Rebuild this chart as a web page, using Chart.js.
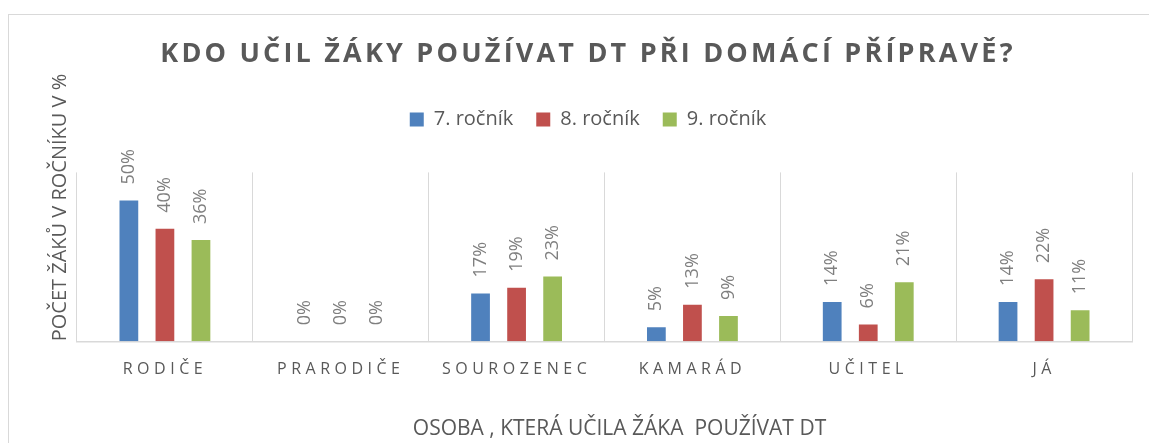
<!DOCTYPE html>
<html>
<head>
<meta charset="utf-8">
<script src="https://cdn.jsdelivr.net/npm/chart.js@4/dist/chart.umd.min.js"></script>
<style>
  body { margin: 0; background: #fff; }
  #wrap { position: relative; width: 1149px; height: 443px; }
  #frame { position: absolute; left: 8px; top: 14px; right: 0; bottom: 0;
           border-left: 1px solid #d9d9d9; border-top: 1px solid #d9d9d9; }
  canvas { position: absolute; left: 0; top: 0; }
</style>
</head>
<body>
<div id="wrap">
  <div id="frame"></div>
  <canvas id="chart" width="1149" height="443"></canvas>
</div>
<script>
var categories = ['RODIČE', 'PRARODIČE', 'SOUROZENEC', 'KAMARÁD', 'UČITEL', 'JÁ'];
var grade7 = [50, 0, 17, 5, 14, 14];
var grade8 = [40, 0, 19, 13, 6, 22];
var grade9 = [36, 0, 23, 9, 21, 11];
var seriesNames = ['7. ročník', '8. ročník', '9. ročník'];
var colors = ['#4F81BD', '#C0504D', '#9BBB59'];

Chart.defaults.font.family = '"Open Sans", sans-serif';
Chart.defaults.color = '#595959';

// canvas letter spacing for the title and the category labels
function spaced(fn, px) {
  return function () {
    var ctx = this.ctx;
    var prev = ctx.letterSpacing;
    ctx.letterSpacing = px;
    fn.apply(this, arguments);
    ctx.letterSpacing = prev;
  };
}
// the x axis title sits a little right of centre in the original
function shifted(fn, dx) {
  return function () {
    this.ctx.save();
    this.ctx.translate(dx, 0);
    fn.apply(this, arguments);
    this.ctx.restore();
  };
}
var textTweaks = {
  id: 'textTweaks',
  beforeDraw: function (chart) {
    if (chart._tweaked) return;
    chart._tweaked = true;
    chart.titleBlock.draw = spaced(chart.titleBlock.draw, '3.2px');
    chart.scales.x.drawLabels = spaced(chart.scales.x.drawLabels, '4.5px');
    chart.scales.x.drawTitle = shifted(chart.scales.x.drawTitle, 15);
  }
};

// extra room under the legend
var legendGap = {
  id: 'legendGap',
  beforeInit: function (chart) {
    var fit = chart.legend.fit;
    chart.legend.fit = function () {
      fit.call(this);
      this.height += 33;
    };
  }
};

// rotated value labels above the bars
var barValues = {
  id: 'barValues',
  afterDatasetsDraw: function (chart) {
    var ctx = chart.ctx;
    ctx.save();
    ctx.font = '18px "Open Sans"';
    ctx.fillStyle = '#7f7f7f';
    ctx.textAlign = 'left';
    ctx.textBaseline = 'middle';
    chart.data.datasets.forEach(function (ds, i) {
      chart.getDatasetMeta(i).data.forEach(function (bar, j) {
        ctx.save();
        ctx.translate(bar.x, bar.y - 16);
        ctx.rotate(-Math.PI / 2);
        ctx.fillText(ds.data[j] + '%', 0, 0);
        ctx.restore();
      });
    });
    ctx.restore();
  }
};

var ctx = document.getElementById('chart').getContext('2d');
var chart = new Chart(ctx, {
  type: 'bar',
  data: {
    labels: categories,
    datasets: [
      { label: seriesNames[0], data: grade7, backgroundColor: colors[0] },
      { label: seriesNames[1], data: grade8, backgroundColor: colors[1] },
      { label: seriesNames[2], data: grade9, backgroundColor: colors[2] }
    ]
  },
  options: {
    responsive: false,
    animation: false,
    categoryPercentage: 0.615,
    barPercentage: 0.52,
    layout: { padding: { left: 44, right: 17, top: 0, bottom: 1 } },
    plugins: {
      title: {
        display: true,
        text: 'KDO UČIL ŽÁKY POUŽÍVAT DT PŘI DOMÁCÍ PŘÍPRAVĚ?',
        font: { size: 27, weight: 'bold' },
        color: '#595959',
        padding: { top: 38, bottom: 16 }
      },
      legend: {
        position: 'top',
        labels: {
          boxWidth: 14,
          boxHeight: 14,
          padding: 23,
          font: { size: 20 },
          color: '#595959'
        }
      },
      tooltip: { enabled: false }
    },
    scales: {
      x: {
        offset: true,
        grid: { display: true, offset: true, color: '#d9d9d9', drawTicks: false },
        border: { display: true, color: '#d9d9d9', width: 1.5 },
        ticks: { padding: 19, font: { size: 16 }, color: '#595959', autoSkip: false, maxRotation: 0 },
        title: {
          display: true,
          text: 'OSOBA , KTERÁ UČILA ŽÁKA  POUŽÍVAT DT',
          font: { size: 21 },
          color: '#595959',
          padding: { top: 18.3, bottom: 0 }
        }
      },
      y: {
        min: 0,
        max: 60,
        grid: { display: false, drawTicks: false },
        border: { display: false },
        ticks: { display: false },
        title: {
          display: true,
          text: 'POČET ŽÁKŮ V ROČNÍKU V %',
          align: 'start',
          font: { size: 20 },
          color: '#595959',
          padding: { top: 4, bottom: 5 }
        }
      }
    }
  },
  plugins: [textTweaks, legendGap, barValues]
});
</script>
</body>
</html>
